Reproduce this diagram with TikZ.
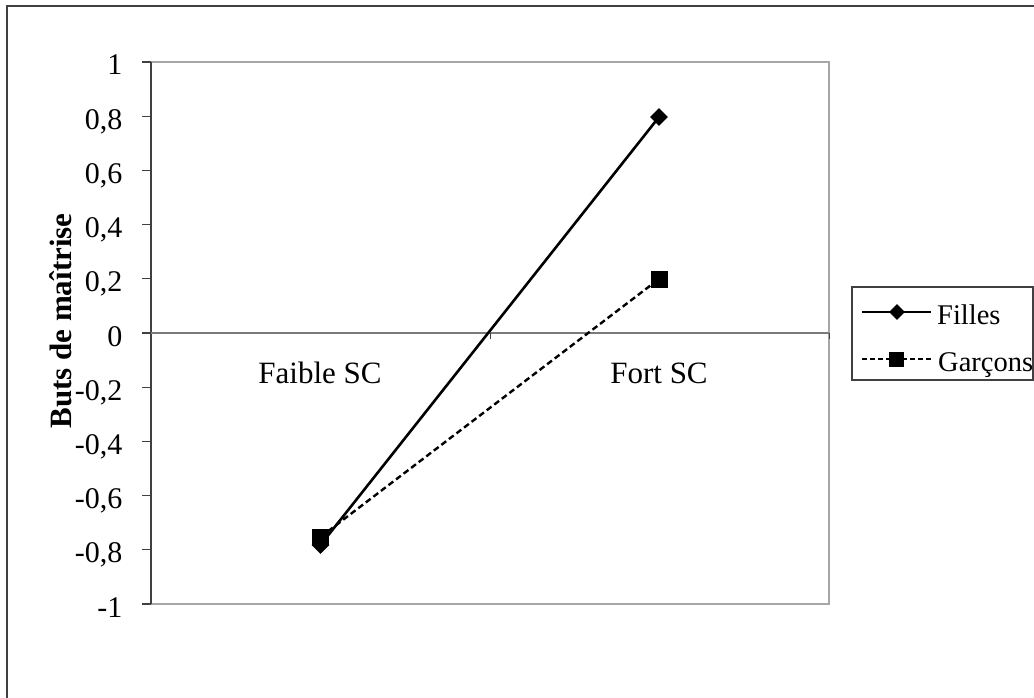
\documentclass[tikz,border=0pt]{standalone}
\usepackage{fontspec}
\setmainfont{Liberation Serif}
\usetikzlibrary{shapes.geometric}
\definecolor{framegray}{HTML}{A6A6A6}
\definecolor{axisgray}{HTML}{7A7A7A}
\definecolor{darkaxis}{HTML}{404040}
\tikzset{
  lbl/.style={font=\fontsize{30}{36}\selectfont, inner sep=0pt},
  ticklbl/.style={lbl, anchor=base east},
  catlbl/.style={inner sep=0pt, anchor=base, font=\fontsize{31}{37}\selectfont},
  leglbl/.style={inner sep=0pt, anchor=base west, font=\fontsize{28.5}{34}\selectfont},
  dmark/.style={diamond, fill=black, draw=none, minimum width=18pt, minimum height=18pt, inner sep=0pt},
  smark/.style={rectangle, fill=black, draw=none, minimum size=17pt, inner sep=0pt},
  fline/.style={line width=2.6pt, black},
  gline/.style={line width=2.4pt, black, dash pattern=on 6pt off 3.5pt},
  lfline/.style={line width=2.2pt, black},
  lgline/.style={line width=2.2pt, black, dash pattern=on 5pt off 3pt},
}
\begin{document}
\begin{tikzpicture}[x=1pt,y=-1pt]
\useasboundingbox (0,0) rectangle (1034,698);
\fill[white] (0,0) rectangle (1034,698);
% outer border
\draw[line width=1.3pt, darkaxis] (7,712) -- (7,6) -- (1050,6);
% plot frame
\draw[line width=2pt, framegray] (151,62) -- (829,62) -- (829,604) -- (151,604);
\draw[line width=1.5pt, darkaxis] (151,604) -- (151,62);
% zero line and ticks
\draw[line width=1.5pt, axisgray] (151,333) -- (829,333);
\draw[line width=1pt, darkaxis] (490,333) -- (490,339);
\draw[line width=1pt, darkaxis] (829,333) -- (829,339);
\foreach \v/\t [count=\i] in {1/1, 0.8/{0,8}, 0.6/{0,6}, 0.4/{0,4}, 0.2/{0,2}, 0/0, -0.2/{-0,2}, -0.4/{-0,4}, -0.6/{-0,6}, -0.8/{-0,8}, -1/-1}{
  \draw[line width=1.2pt, darkaxis] (142,{333-\v*271}) -- (151,{333-\v*271});
  \node[ticklbl] (tick\i) at (122.5,{333-\v*271+13}) {\t};
}
% axis title
\node[inner sep=0pt, rotate=90, font=\fontsize{31}{37}\selectfont\bfseries] (ytitle) at (61,321) {Buts de maîtrise};
% category labels
\node[catlbl] (cat1) at (320,383) {Faible SC};
\node[catlbl] (cat2) at (659,383) {Fort SC};
% data
\coordinate (g1) at (320.5,537);
\coordinate (g2) at (659,279);
\coordinate (f1) at (320.5,545);
\coordinate (f2) at (659,117);
\draw[gline] (g1) -- (g2);
\draw[fline] (f1) -- (f2);
\node[dmark] (fm1) at (f1) {};
\node[dmark] (fm2) at (f2) {};
\node[smark] (gm1) at (g1) {};
\node[smark] (gm2) at (g2) {};
% legend
\draw[line width=1.3pt, darkaxis] (852,287) rectangle (1033,380);
\coordinate (la1) at (862,312);
\coordinate (lb1) at (931,312);
\coordinate (la2) at (862,359);
\coordinate (lb2) at (931,359);
\draw[lfline] (la1) -- (lb1);
\draw[lgline] (la2) -- (lb2);
\node[dmark, minimum width=16pt, minimum height=16pt] (lfm) at (897,312) {};
\node[smark, minimum size=15pt] (lgm) at (896,359) {};
\node[leglbl] (lf) at (937,324) {Filles};
\node[leglbl] (lg) at (938,371) {Garçons};
\end{tikzpicture}
\end{document}
